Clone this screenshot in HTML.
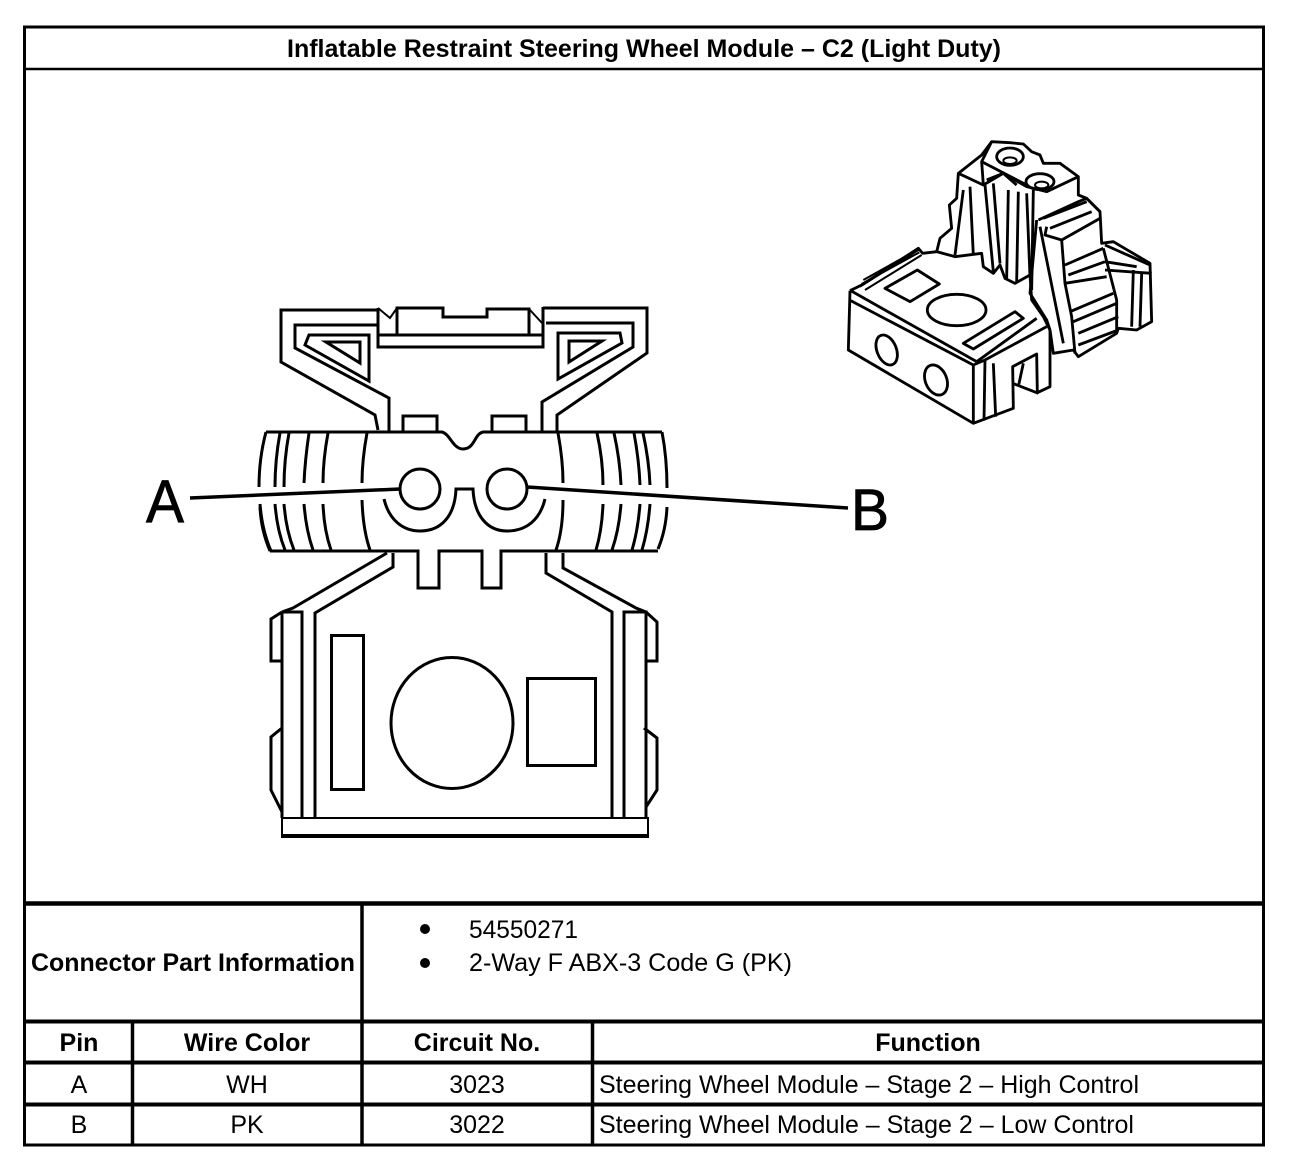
<!DOCTYPE html>
<html><head><meta charset="utf-8"><style>
html,body{margin:0;padding:0;background:#fff;width:1312px;height:1170px;overflow:hidden}
svg{display:block}
text{font-family:"Liberation Sans",sans-serif;fill:#000;font-size:25px}
.b{font-weight:bold}
.m{text-anchor:middle}
</style></head><body>
<svg width="1312" height="1170" viewBox="0 0 1312 1170" xmlns="http://www.w3.org/2000/svg">
<rect width="1312" height="1170" fill="#fff"/>
<g stroke="#000" fill="none">
<rect x="24.5" y="27" width="1239" height="1118" stroke-width="3"/>
<path d="M24 69H1264" stroke-width="2.5"/>
<path d="M24 903.5H1264" stroke-width="4.5"/>
<path d="M24 1021.5H1264M24 1062.5H1264M24 1104.5H1264" stroke-width="4"/>
<path d="M362 903V1145" stroke-width="3.5"/>
<path d="M132.5 1021V1145M592.5 1021V1145" stroke-width="3.5"/>
</g>
<text class="b" x="287" y="57" textLength="714" lengthAdjust="spacingAndGlyphs">Inflatable Restraint Steering Wheel Module – C2 (Light Duty)</text>
<text class="b" x="31" y="971" textLength="324" lengthAdjust="spacingAndGlyphs">Connector Part Information</text>
<circle cx="425" cy="929" r="5"/><circle cx="425" cy="963" r="5"/>
<text x="469" y="938" textLength="109" lengthAdjust="spacingAndGlyphs">54550271</text>
<text x="469" y="971" textLength="323" lengthAdjust="spacingAndGlyphs">2-Way F ABX-3 Code G (PK)</text>
<text class="b m" x="79" y="1051">Pin</text>
<text class="b m" x="247" y="1051">Wire Color</text>
<text class="b m" x="477" y="1051">Circuit No.</text>
<text class="b m" x="928" y="1051">Function</text>
<text class="m" x="79" y="1093">A</text>
<text class="m" x="247" y="1093">WH</text>
<text class="m" x="477" y="1093">3023</text>
<text x="599" y="1093" textLength="540" lengthAdjust="spacingAndGlyphs">Steering Wheel Module – Stage 2 – High Control</text>
<text class="m" x="79" y="1133">B</text>
<text class="m" x="247" y="1133">PK</text>
<text class="m" x="477" y="1133">3022</text>
<text x="599" y="1133" textLength="535" lengthAdjust="spacingAndGlyphs">Steering Wheel Module – Stage 2 – Low Control</text>

<text x="146" y="522" textLength="38" lengthAdjust="spacingAndGlyphs" style="font-size:60px;stroke:#000;stroke-width:.8px">A</text>
<text x="851" y="530" textLength="38" lengthAdjust="spacingAndGlyphs" style="font-size:58px;stroke:#000;stroke-width:.8px">B</text>

<!-- front view -->
<g stroke="#000" fill="none" stroke-width="3" stroke-linejoin="miter">
<path d="M378 310H281V362L375 415L378 430"/>
<path d="M378 325H295V348L389 398V431"/>
<path d="M369 335H309L305 345L369 381Z"/>
<path d="M326 342H360V363Z"/>
<path d="M378 308V347H543V307M378 335H543" />
<path d="M397 334V308H443V317H487V309H529V334"/>
<path d="M378 308L390 318L397 308M530 310L542 323" stroke-width="2"/>
<path d="M543 308H647V353L557 415V431"/>
<path d="M546 323H633V347L542 402V431"/>
<path d="M558 333H620L622 343L558 379Z"/>
<path d="M569 341H602L569 362Z"/>
<path d="M403 431V416H437V431M492 431V416H526V431"/>
<path d="M266 432H442C450 434 453 449 463 449C475 449 474 434 483 432H662"/>
<path d="M266 432Q259 458 259 487M260 507Q261 530 270 551M662 432Q667 458 667 488M667 507Q666 530 658 549"/>
<path d="M270 551H418V588H439V551H482V588H501V551H658"/>
<circle cx="420" cy="489" r="20"/>
<circle cx="507" cy="489" r="20"/>
<path d="M384 499C389 520 403 531 420 531C442 531 455 515 456 489H473C474 515 487 531 507 531C526 531 540 520 545 499"/>
<path d="M280 433Q275 460 275 487M289 433Q284 460 284 487M309 433Q305 460 304 483M328 433Q323 460 323 483M367 433Q362 460 362 483"/>
<path d="M260 504Q262 530 271 551M275 504Q277 530 285 550M284 504Q286 530 294 550M304 504Q306 530 313 550M323 504Q324 530 331 550M362 500Q363 530 370 550"/>
<path d="M558 433Q563 460 563 483M597 433Q603 460 603 485M614 433Q620 460 621 485M634 433Q639 460 640 485M643 433Q649 460 650 485"/>
<path d="M563 500Q563 530 556 550M603 504Q602 530 596 550M621 504Q619 530 612 550M640 504Q638 530 632 550M650 504Q648 530 642 550"/>
<path d="M387 553L293 608L282 612M393 553V567L315 613V818"/>
<path d="M546 553V573L612 612V818M563 553V568L636 608L646 612"/>
<path d="M282 612H302V818M282 612V818" />
<path d="M624 818V612H646V818"/>
<path d="M282 818H648V837H282Z" stroke-width="2"/>
<path d="M282 836H648" stroke-width="4"/>
<path d="M282 612L271 619V661H282M282 728L271 737V790L282 812"/>
<path d="M646 612L657 622V661H646M644 728L657 738V790L646 807"/>
<rect x="331.5" y="635.5" width="32" height="154"/>
<ellipse cx="452" cy="723" rx="61" ry="65.5"/>
<rect x="527.5" y="678.5" width="68" height="87"/>
<path d="M190 498L400 489" stroke-width="3.5"/>
<path d="M527 487L848 508" stroke-width="3.5"/>
</g>

<!-- isometric view -->
<g transform="translate(830 130) scale(.33333)" stroke="#000" fill="none" stroke-width="8.5" stroke-linejoin="round">
<path d="M60 482L55 660L430 880L550 835L548 710L620 672L622 788L660 770L660 600"/>
<path d="M60 482L95 465L265 355L278 370L320 365"/>
<path d="M62 512L430 705V880M62 482L440 695"/>
<path d="M430 705L465 690L650 590M440 695L620 565M465 690L462 872M490 700L497 860"/>
<path d="M548 760L625 790M580 700L565 770"/>
<ellipse cx="170" cy="660" rx="29" ry="47" transform="rotate(-22 170 660)"/>
<ellipse cx="318" cy="750" rx="32" ry="47" transform="rotate(-22 318 750)"/>
<ellipse cx="380" cy="540" rx="88" ry="47"/>
<path d="M165 475L262 420L328 462L240 515Z"/>
<path d="M400 640L555 545L580 565L430 657Z"/>
<path d="M90 470L265 360M105 480L275 375M100 450L270 355M95 462L268 367" stroke-width="6"/>
<path d="M320 365L330 325L365 295L358 225L380 205L385 130L455 75L485 35L540 38L580 42L605 65L630 75L640 100L690 100L745 140L745 195L770 205L810 245L815 340L850 335L960 400L965 575L920 600L865 595L860 610L745 680L730 660L670 670L660 600"/>
<path d="M320 365L375 380L455 370L460 410L490 430L510 405L525 445L555 460L600 435L605 510L640 560L660 600"/>
<path d="M385 130L460 165L520 130L590 170L650 185L745 140"/>
<path d="M400 180L375 375M420 170L430 375M465 165L490 425M490 160L510 400M535 180L530 445M565 185L560 455M590 190L600 440M610 180L605 480"/>
<path d="M485 35L455 95L460 165M455 95L590 165M470 150L520 130L560 165"/>
<ellipse cx="540" cy="80" rx="40" ry="26"/>
<ellipse cx="540" cy="92" rx="20" ry="10" stroke-width="6"/>
<ellipse cx="630" cy="155" rx="42" ry="24"/>
<ellipse cx="635" cy="165" rx="20" ry="10" stroke-width="6"/>
<path d="M625 270L745 215L770 205L810 245M640 265L770 215M660 295L785 245M620 270L600 490L650 570L660 600M650 290L645 315L695 330L810 265"/>
<path d="M695 330L705 460L725 560L735 670M705 405L820 355M715 435L825 395M705 460L830 440M720 545L850 490M730 575L860 520M745 610L865 560M745 645L865 600"/>
<path d="M630 290L700 640M820 355L860 510V600"/>
<path d="M825 345L960 405M825 420L965 430M910 420L905 590M935 430L930 590M825 395L920 410"/>
</g>
</svg>
</body></html>
